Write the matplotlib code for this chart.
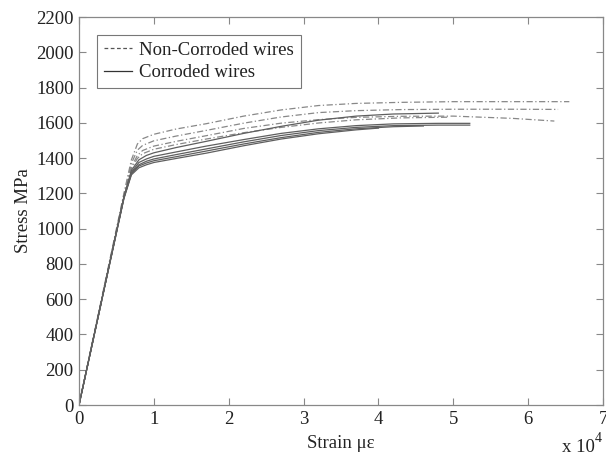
import matplotlib

matplotlib.use("Agg")
import matplotlib.pyplot as plt

plt.rcParams["font.family"] = ["Liberation Serif", "DejaVu Serif"]

# strain in units of 1e4 microstrain, stress in MPa
XA = [0, 0.3, 0.6, 0.7, 0.78, 0.85, 1.0, 1.3, 1.7, 2.2, 2.7, 3.2, 3.7, 4.3, 5.0, 5.8]

non_corroded = [
    (XA + [6.55], [0, 600, 1200, 1390, 1480, 1510, 1535, 1565, 1595, 1638, 1673, 1698, 1710, 1716, 1720, 1720, 1720]),
    (XA + [6.4], [0, 590, 1190, 1370, 1445, 1472, 1498, 1525, 1557, 1598, 1633, 1658, 1669, 1675, 1677, 1677, 1676]),
    (XA + [6.35], [0, 590, 1180, 1350, 1415, 1443, 1468, 1495, 1527, 1568, 1598, 1618, 1631, 1637, 1638, 1625, 1610]),
    (XA[:14] + [4.95], [0, 585, 1175, 1340, 1398, 1425, 1450, 1477, 1508, 1544, 1574, 1599, 1617, 1628, 1632]),
]

XB = [0, 0.3, 0.6, 0.7, 0.8, 0.9, 1.0, 1.3, 1.7, 2.2, 2.7, 3.2, 3.7, 4.2]

corroded = [
    (XB + [4.8], [0, 590, 1180, 1330, 1390, 1415, 1430, 1460, 1495, 1540, 1580, 1615, 1638, 1650, 1655]),
    (XB + [4.8, 5.22], [0, 590, 1180, 1320, 1375, 1395, 1410, 1435, 1468, 1505, 1540, 1566, 1584, 1594, 1597, 1597]),
    (XB + [4.8, 5.22], [0, 588, 1175, 1315, 1362, 1382, 1395, 1420, 1452, 1492, 1528, 1556, 1574, 1584, 1587, 1587]),
    (XB + [4.6], [0, 588, 1175, 1310, 1355, 1372, 1385, 1408, 1440, 1480, 1516, 1546, 1566, 1578, 1582]),
    (XB[:13] + [4.0], [0, 585, 1170, 1305, 1345, 1362, 1375, 1398, 1428, 1470, 1508, 1538, 1560, 1570]),
]

fig = plt.figure(figsize=(6.06, 4.58), dpi=100)
ax = fig.add_axes([79 / 606, 53 / 458, 524 / 606, 388 / 458])

for x, y in non_corroded:
    ax.plot(x, y, color="#888888", lw=0.9, ls=(0, (5, 2, 1, 2)))
for x, y in corroded:
    ax.plot(x, y, color="#5f5f5f", lw=0.9, ls="-")

ax.set_xlim(0, 7)
ax.set_ylim(0, 2200)
ax.set_xticks(range(0, 8))
ax.set_yticks(range(0, 2201, 200))
ax.tick_params(direction="in", length=5, width=0.8, color="#888888",
               labelsize=13.5, labelcolor="#222222", top=True, right=True)
ax.tick_params(axis="x", pad=4)
ax.tick_params(axis="y", pad=4)
for s in ax.spines.values():
    s.set_color("#888888")
    s.set_linewidth(0.9)

ax.set_xlabel("Strain \u03bc\u03b5", fontsize=13.5, color="#222222", labelpad=5)
ax.set_ylabel("Stress MPa", fontsize=13.5, color="#222222", labelpad=3)

fig.text(562 / 606, 1 - 448 / 458, "x 10", fontsize=13.5, color="#222222", va="center", ha="left")
fig.text(595 / 606, 1 - 438 / 458, "4", fontsize=10, color="#222222", va="center", ha="left")

h = [plt.Line2D([], [], color="#555555", lw=0.9, ls=(0, (3, 2))),
     plt.Line2D([], [], color="#333333", lw=0.9, ls="-")]
leg = ax.legend(h, ["Non-Corroded wires", "Corroded wires"], loc="upper left",
                bbox_to_anchor=(18 / 524, 1 - 18 / 388), fontsize=13.5, frameon=True,
                fancybox=False, handlelength=1.5, handletextpad=0.4, borderpad=0.35,
                labelspacing=0.3, borderaxespad=0)
leg.get_frame().set_edgecolor("#555555")
leg.get_frame().set_linewidth(0.8)
for t in leg.get_texts():
    t.set_color("#222222")

fig.savefig("out.png", dpi=100, facecolor="white")
